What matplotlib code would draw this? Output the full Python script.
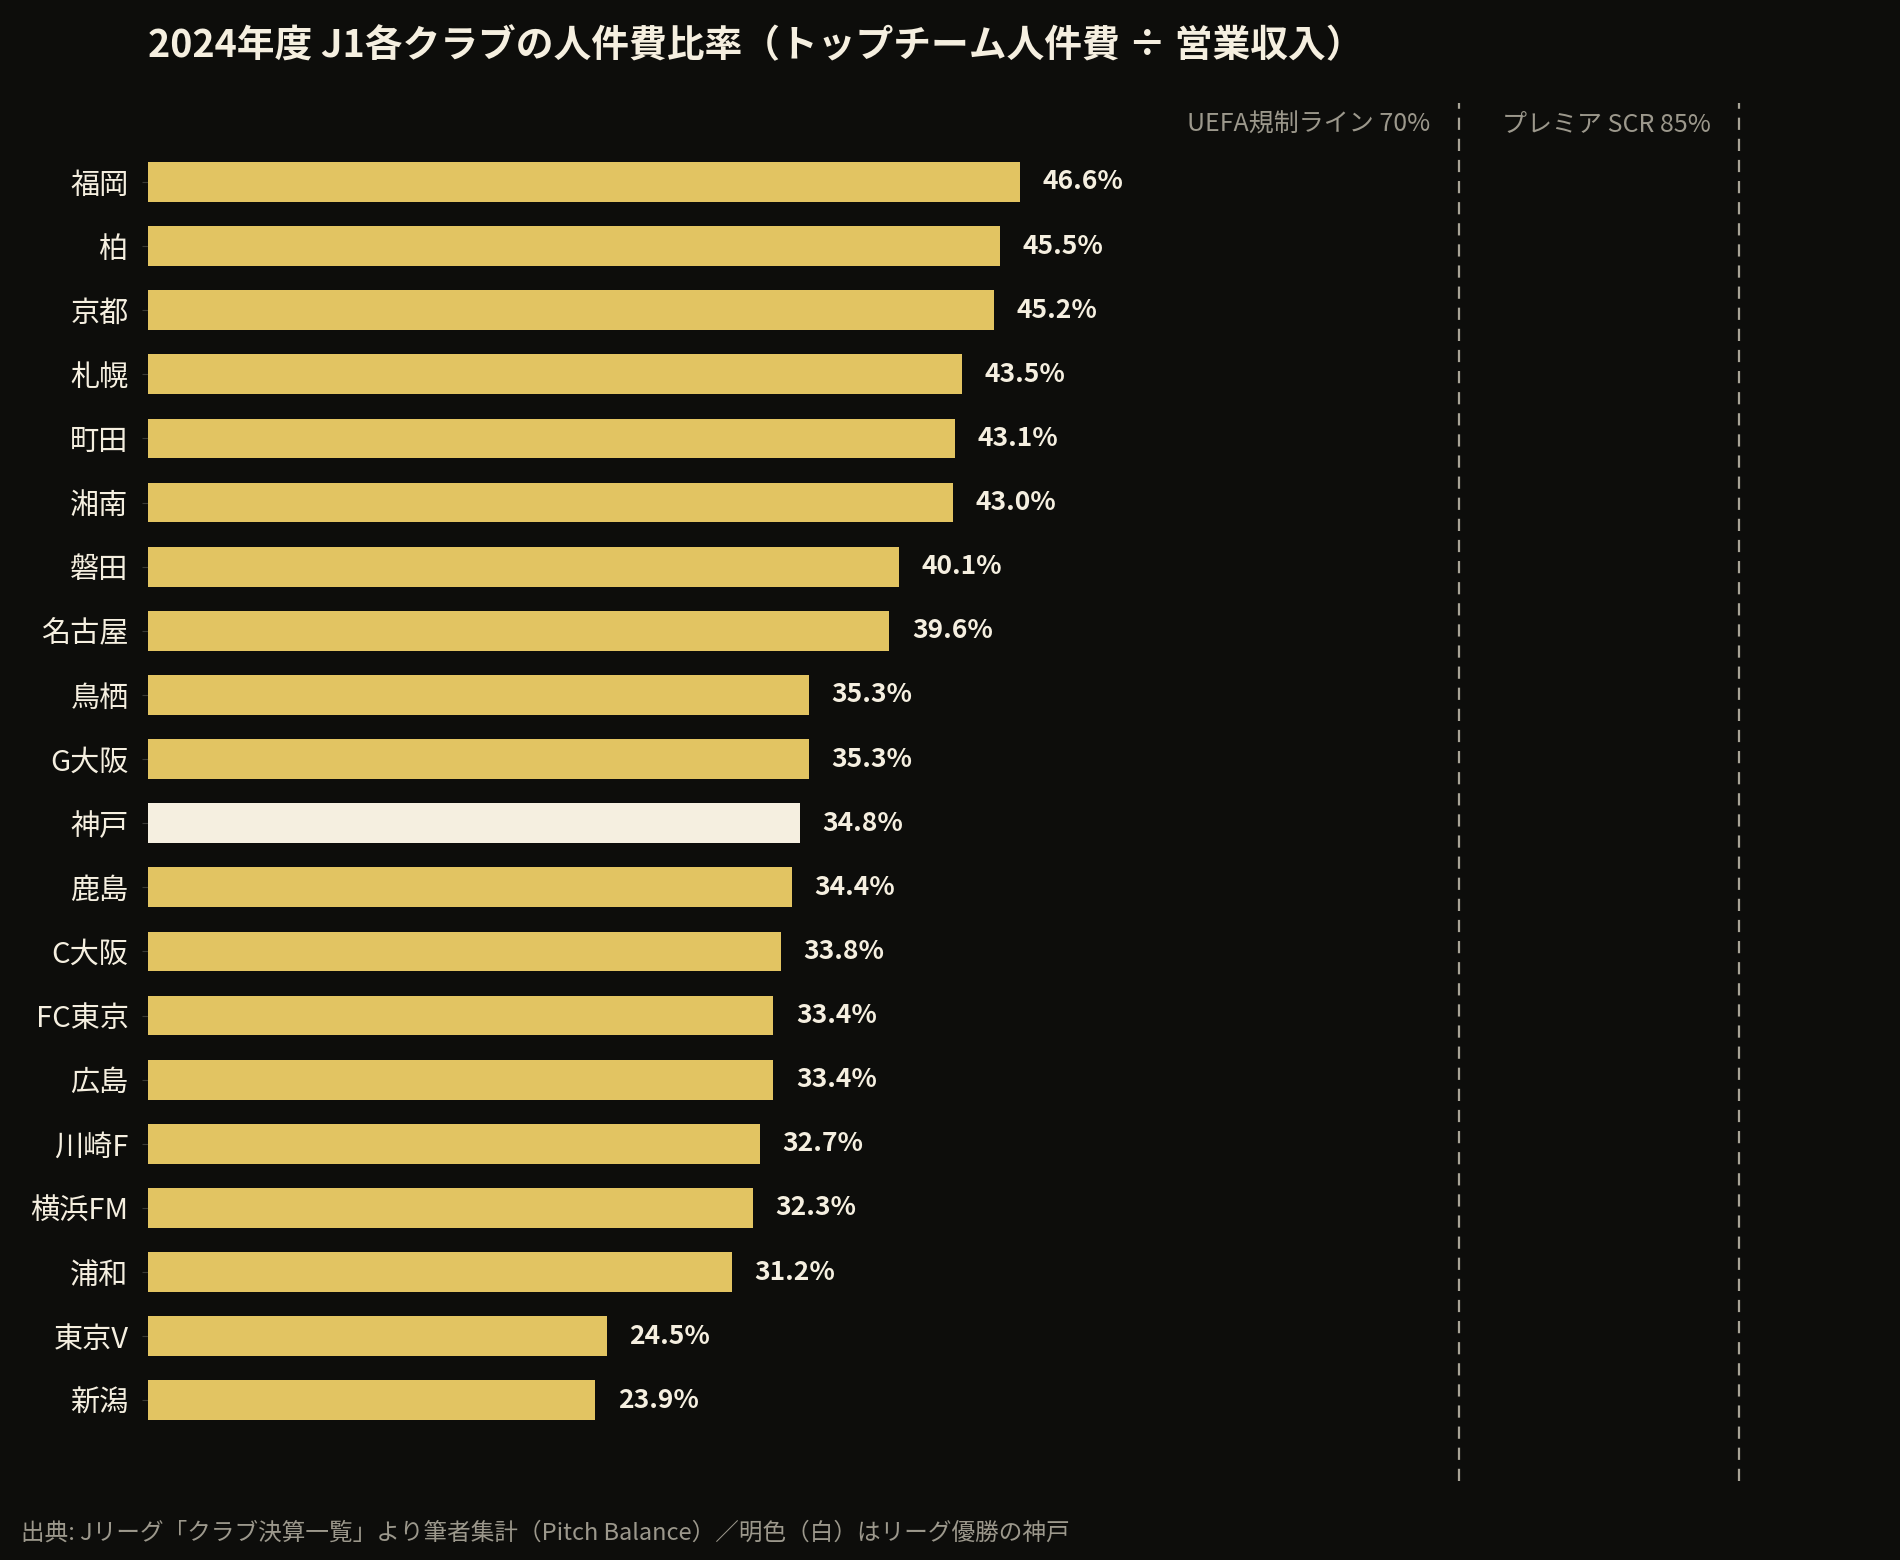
import matplotlib
matplotlib.use("Agg")
import matplotlib.pyplot as plt

plt.rcParams["font.family"] = ["Noto Sans CJK JP", "DejaVu Sans"]

BG = "#0d0d0b"
GOLD = "#e2c462"
CREAM = "#f5efe0"
GREY = "#9c988c"
LINE = "#a8a497"

clubs = ["福岡", "柏", "京都", "札幌", "町田", "湘南", "磐田", "名古屋", "鳥栖", "G大阪",
         "神戸", "鹿島", "C大阪", "FC東京", "広島", "川崎F", "横浜FM", "浦和", "東京V", "新潟"]
ratios = [46.6, 45.5, 45.2, 43.5, 43.1, 43.0, 40.1, 39.6, 35.3, 35.3,
          34.8, 34.4, 33.8, 33.4, 33.4, 32.7, 32.3, 31.2, 24.5, 23.9]
highlight = "神戸"

ref_values = [70, 85]
ref_labels = ["UEFA規制ライン 70%", "プレミア SCR 85%"]

title = "2024年度 J1各クラブの人件費比率（トップチーム人件費 ÷ 営業収入）"
source = "出典: Jリーグ「クラブ決算一覧」より筆者集計（Pitch Balance）／明色（白）はリーグ優勝の神戸"

fig = plt.figure(figsize=(19, 15.6), dpi=100, facecolor=BG)
ax = fig.add_axes([0.0779, 0.0506, 0.8868, 0.8833])
ax.set_facecolor(BG)

y = list(range(len(clubs)))
colors = [CREAM if c == highlight else GOLD for c in clubs]
ax.barh(y, ratios, height=0.62, color=colors, zorder=2)

for yi, v in zip(y, ratios):
    ax.text(v + 1.2, yi, f"{v:.1f}%", ha="left", va="center",
            fontsize=19, fontweight="bold", color=CREAM)

for v, lab in zip(ref_values, ref_labels):
    ax.axvline(v, color=LINE, lw=1.6, linestyle=(0, (5.5, 4)), zorder=1)
    ax.text(v - 1.5, -0.9, lab, ha="right", va="center", fontsize=18, color=GREY)

ax.set_xlim(0, 90)
ax.set_ylim(20.26, -1.23)
ax.set_yticks(y)
ax.set_yticklabels(clubs, fontsize=21, color=CREAM)
ax.tick_params(axis="y", length=4, color="#3a3a36", pad=10)
ax.set_xticks([])
for s in ax.spines.values():
    s.set_visible(False)

fig.text(148 / 1900, 1 - 46 / 1560, title, ha="left", va="center",
         fontsize=27.2, fontweight="bold", color=CREAM)
fig.text(21 / 1900, 1 - 1533 / 1560, source, ha="left", va="center",
         fontsize=17, color=GREY)

fig.savefig("out.png", dpi=100, facecolor=BG)
